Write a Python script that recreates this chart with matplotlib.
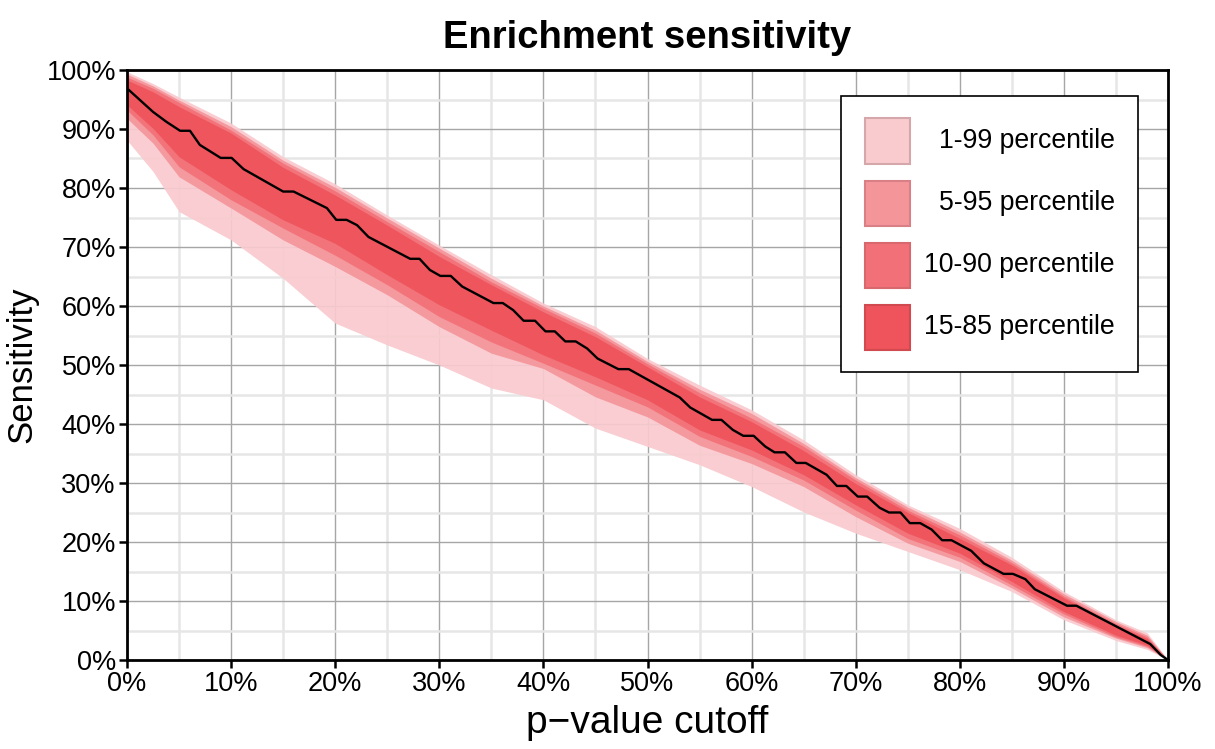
import matplotlib
import matplotlib.pyplot as plt
from matplotlib.patches import Rectangle
from matplotlib.ticker import FuncFormatter, MultipleLocator

matplotlib.use("Agg")
plt.rcParams["font.family"] = ["Liberation Sans", "DejaVu Sans"]

# --- Data (percent) ---
median_x = [0, 1.25, 2.5, 3.8, 5.1, 6.05, 7.0, 9.0, 10.05, 11.2, 15.0, 16.0, 19.2, 20.1,
            21.1, 22.1, 23.2, 27.2, 28.1, 29.1, 30.1, 31.1, 32.2, 35.2, 36.1, 37.1, 38.1,
            39.2, 40.2, 41.1, 42.1, 43.1, 44.2, 45.2, 47.2, 48.2, 53.1, 54.1, 56.2, 57.1,
            58.2, 59.2, 60.2, 61.3, 62.2, 63.2, 64.3, 65.2, 67.2, 68.2, 69.1, 70.2, 71.1,
            72.3, 73.2, 74.3, 75.2, 76.2, 77.3, 78.3, 79.2, 81.1, 82.3, 84.2, 85.1, 86.3,
            87.2, 90.3, 91.2, 98.3, 99.3, 100]
median_y = [96.9, 94.9, 92.9, 91.2, 89.7, 89.7, 87.3, 85.1, 85.1, 83.2, 79.4, 79.4, 76.6, 74.6,
            74.6, 73.7, 71.7, 68.0, 68.0, 66.1, 65.1, 65.1, 63.3, 60.5, 60.5, 59.3, 57.5,
            57.5, 55.7, 55.7, 54.0, 54.0, 52.8, 51.1, 49.3, 49.3, 44.5, 42.8, 40.7, 40.7,
            39.0, 38.0, 38.0, 36.2, 35.2, 35.2, 33.4, 33.4, 31.4, 29.5, 29.5, 27.7, 27.7,
            25.8, 25.0, 25.0, 23.2, 23.2, 22.1, 20.3, 20.3, 18.5, 16.4, 14.6, 14.6, 13.7,
            12.0, 9.2, 9.2, 2.7, 0.85, 0]

band_x = [0, 2.5, 5, 10, 15, 20, 25, 30, 35, 40, 45, 50, 55, 60, 65, 70, 75, 80, 85, 90, 95, 98, 100]
p99_hi = [99.7, 97.7, 95.4, 91.0, 85.3, 80.7, 75.4, 70.3, 65.3, 60.5, 56.5, 51.1, 46.6, 42.4, 37.3, 31.4, 26.3, 22.3, 17.4, 11.6, 6.8, 4.6, 0]
p95_hi = [99.3, 97.3, 94.9, 90.4, 84.7, 80.1, 74.9, 69.8, 64.7, 60.0, 55.9, 50.6, 45.9, 41.8, 36.7, 30.9, 25.9, 21.7, 16.9, 11.2, 6.5, 4.2, 0]
p90_hi = [98.8, 96.9, 94.5, 89.8, 84.2, 79.5, 74.3, 69.2, 64.1, 59.6, 55.4, 50.2, 45.3, 41.0, 36.2, 30.5, 25.4, 21.2, 16.5, 10.8, 6.2, 3.9, 0]
p85_hi = [98.3, 96.3, 93.8, 89.3, 83.5, 78.8, 73.7, 68.4, 63.6, 59.0, 54.8, 49.7, 44.6, 40.4, 35.5, 29.9, 25.0, 20.6, 16.1, 10.5, 5.9, 3.6, 0]
p85_lo = [94.1, 90.1, 85.3, 79.7, 74.6, 70.6, 65.3, 60.2, 55.9, 51.7, 48.0, 44.1, 39.0, 35.6, 31.4, 26.3, 21.5, 18.1, 13.3, 8.2, 4.2, 2.5, 0]
p90_lo = [93.2, 89.0, 83.6, 78.0, 73.2, 68.6, 63.6, 58.2, 53.9, 50.3, 46.6, 42.9, 37.9, 34.5, 30.5, 25.4, 20.6, 17.4, 12.7, 7.8, 3.9, 2.3, 0]
p95_lo = [91.8, 87.6, 81.9, 76.6, 71.2, 66.7, 61.9, 56.5, 52.0, 49.4, 44.6, 41.2, 36.4, 33.3, 29.4, 24.3, 19.8, 16.7, 12.2, 7.3, 3.7, 2.1, 0]
p99_lo = [88.1, 82.8, 76.0, 71.2, 64.7, 57.1, 53.4, 50.0, 46.1, 44.1, 39.3, 36.2, 33.1, 29.4, 25.1, 21.5, 18.4, 15.3, 11.6, 6.8, 3.3, 1.8, 0]

band_labels = ["1-99 percentile", "5-95 percentile", "10-90 percentile", "15-85 percentile"]
band_colors = ["#F9CACE", "#F4959A", "#F27178", "#EF535B"]
band_edges = ["#D4A8AB", "#D88085", "#D8686E", "#D04A50"]

# --- Figure ---
fig = plt.figure(figsize=(12.15, 7.49), dpi=100)
ax = fig.add_axes([127 / 1215, 1 - 660 / 749, 1041 / 1215, 590 / 749])

bands = [(p99_lo, p99_hi), (p95_lo, p95_hi), (p90_lo, p90_hi), (p85_lo, p85_hi)]
for (lo, hi), col in zip(bands, band_colors):
    ax.fill_between(band_x, lo, hi, color=col, lw=0, alpha=0.93, zorder=2)

ax.plot(median_x, median_y, color="black", lw=1.7, zorder=4)

ax.set_xlim(0, 100)
ax.set_ylim(0, 100)
pct = FuncFormatter(lambda v, _: f"{v:.0f}%")
for axis in (ax.xaxis, ax.yaxis):
    axis.set_major_locator(MultipleLocator(10))
    axis.set_minor_locator(MultipleLocator(5))
    axis.set_major_formatter(pct)
ax.set_axisbelow(True)
ax.grid(which="major", color="#A6A6A6", lw=1.0, zorder=0)
ax.grid(which="minor", color="#E6E6E6", lw=1.8, zorder=0)
ax.tick_params(which="major", direction="out", length=6, width=1.8, labelsize=19.5, pad=2)
ax.tick_params(which="minor", length=0)
for sp in ax.spines.values():
    sp.set_linewidth(2)
    sp.set_zorder(5)

ax.set_xlabel("p\u2212value cutoff", fontsize=28, labelpad=6)
ax.set_ylabel("Sensitivity", fontsize=25, labelpad=6)
ax.set_title("Enrichment sensitivity", fontsize=27.5, fontweight="bold", pad=16)

# --- Legend (drawn by hand so the labels can be right-aligned) ---
leg_box = Rectangle((0.686, 0.488), 0.285, 0.468, transform=ax.transAxes,
                    facecolor="white", edgecolor="black", lw=1.2, zorder=6)
ax.add_patch(leg_box)
key_w, key_h = 45 / 1041, 45 / 590
key_x = (865 - 127) / 1041
text_x = (1115 - 127) / 1041
centers_px = [141, 203, 265, 327]
for label, col, ec, cy in zip(band_labels, band_colors, band_edges, centers_px):
    yc = (660 - cy) / 590
    ax.add_patch(Rectangle((key_x, yc - key_h / 2), key_w, key_h, transform=ax.transAxes,
                           facecolor=col, edgecolor=ec, lw=1.5, zorder=7))
    ax.text(text_x, yc, label, transform=ax.transAxes, ha="right", va="center",
            fontsize=19.2, zorder=7)

fig.savefig("out.png", dpi=100)
